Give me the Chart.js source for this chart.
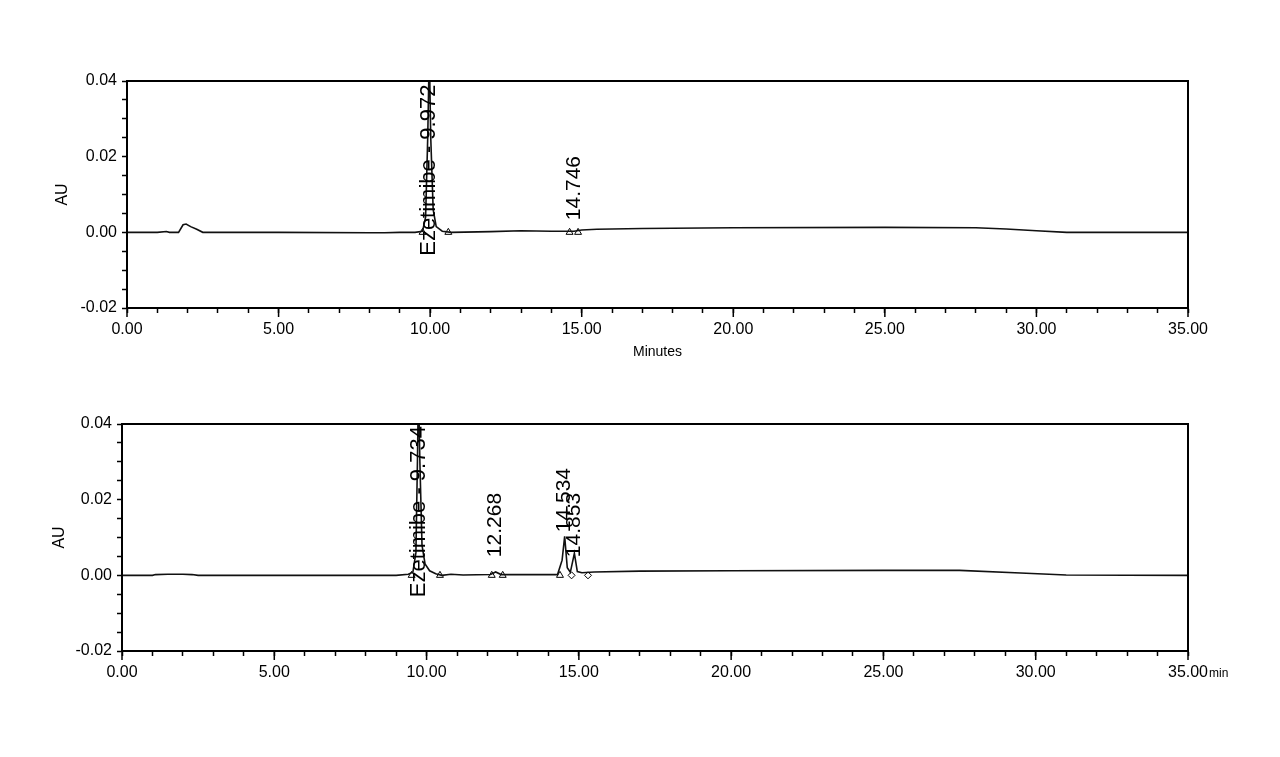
<!DOCTYPE html>
<html><head><meta charset="utf-8">
<script src="https://cdn.jsdelivr.net/npm/chart.js@4.4.1/dist/chart.umd.min.js"></script>
<style>
html,body{margin:0;padding:0;background:#fff;width:1280px;height:757px;overflow:hidden}
canvas{position:absolute;left:0}
#c1{top:0}
#c2{top:380px}
</style></head><body>
<canvas id="c1" width="1280" height="380"></canvas>
<canvas id="c2" width="1280" height="377"></canvas>
<script>
// ---- data ----
const topTime = [0, 1.0, 1.3, 1.4, 1.7, 1.85, 1.95, 2.1, 2.3, 2.5, 5.0, 8.0, 8.5, 9.0, 9.5, 9.75, 9.85, 9.92, 9.972, 10.02, 10.1, 10.2, 10.4, 10.7, 12.0, 13.0, 14.0, 14.746, 15.0, 15.5, 17.0, 20.0, 25.0, 28.0, 29.0, 30.0, 31.0, 35.0];
const topAU   = [0, 0.0000, 0.0002, 0.0000, 0.0000, 0.0020, 0.0022, 0.0015, 0.0008, 0.0000, 0.0000, -0.0001, -0.0001, 0.0000, 0.0000, 0.0003, 0.0040, 0.0250, 0.0480, 0.0250, 0.0060, 0.0015, 0.0003, 0.0000, 0.0002, 0.0004, 0.0003, 0.0003, 0.0006, 0.0008, 0.0010, 0.0012, 0.0013, 0.0012, 0.0009, 0.0004, 0.0000, 0.0000];
const topMarkerTimes = [9.75, 10.6, 14.6, 14.88];
const topMarkerAU    = [0, 0, 0, 0];
const topPeakTimes = [9.972, 14.746];
const topPeakTexts = ["Ezetimibe - 9.972", "14.746"];
const topLabelBase = [-0.0062, 0.0032];

const bottomTime = [0, 1.0, 1.1, 1.5, 2.0, 2.3, 2.5, 5.0, 9.0, 9.4, 9.55, 9.65, 9.70, 9.734, 9.78, 9.85, 9.95, 10.1, 10.3, 10.5, 10.8, 11.2, 12.1, 12.268, 12.45, 13.0, 14.3, 14.45, 14.534, 14.62, 14.72, 14.853, 14.95, 15.1, 15.5, 17.0, 20.0, 25.0, 27.5, 29.5, 31.0, 35.0];
const bottomAU   = [0, 0.0000, 0.0002, 0.0003, 0.0003, 0.0002, 0.0000, 0.0000, 0.0000, 0.0003, 0.0008, 0.0060, 0.0300, 0.0500, 0.0300, 0.0080, 0.0030, 0.0012, 0.0004, 0.0000, 0.0003, 0.0001, 0.0002, 0.0009, 0.0002, 0.0002, 0.0002, 0.0040, 0.0103, 0.0020, 0.0008, 0.0058, 0.0010, 0.0007, 0.0009, 0.0011, 0.0012, 0.0013, 0.0013, 0.0006, 0.0001, 0.0000];
const bottomMarkerTimes  = [9.51, 10.44, 12.14, 12.5, 14.38];
const bottomMarkerAU     = [0, 0, 0, 0, 0];
const bottomDiamondTimes = [14.76, 15.3];
const bottomDiamondAU    = [0, 0];
const bottomPeakTimes = [9.734, 12.268, 14.534, 14.853];
const bottomPeakTexts = ["Ezetimibe - 9.734", "12.268", "14.534", "14.853"];
const bottomLabelBase = [-0.0058, 0.0048, 0.0114, 0.0048];

const xMajorTicks = [0, 5, 10, 15, 20, 25, 30, 35];
const yMajorTicks = [-0.02, 0, 0.02, 0.04];

// ---- drawing ----
const INK = '#000';
const FONT = "'Liberation Sans', Arial, sans-serif";

function pts(xs, ys){ return xs.map((t,i)=>({x:t, y:ys[i]})); }
function isMajor(v, list){ return list.some(m => Math.abs(m - v) < 1e-6); }

const frameAndTicks = {
  id: 'frameAndTicks',
  afterDraw(chart, args, opts){
    const {ctx, chartArea:a, scales:{x}} = chart;
    ctx.save();
    ctx.strokeStyle = INK; ctx.lineWidth = 2;
    ctx.strokeRect(a.left, a.top, a.right - a.left, a.bottom - a.top);
    ctx.lineWidth = 1.5;
    xMajorTicks.forEach(v => {
      const px = x.getPixelForValue(v);
      ctx.beginPath(); ctx.moveTo(px, a.bottom); ctx.lineTo(px, a.bottom + 9); ctx.stroke();
    });
    if (opts.suffix) {
      ctx.font = '12px ' + FONT; ctx.fillStyle = INK;
      ctx.textAlign = 'left'; ctx.textBaseline = 'middle';
      ctx.fillText(opts.suffix, x.getPixelForValue(35) + 21, a.bottom + 23);
    }
    ctx.restore();
  }
};

const peakLabels = {
  id: 'peakLabels',
  afterDatasetsDraw(chart, args, opts){
    const {ctx, scales:{x, y}} = chart;
    ctx.save();
    ctx.fillStyle = INK;
    ctx.textAlign = 'left'; ctx.textBaseline = 'middle';
    opts.times.forEach((t, i) => {
      ctx.font = (i === 0 ? opts.size + 1 : opts.size) + 'px ' + FONT;
      ctx.save();
      ctx.translate(x.getPixelForValue(t), y.getPixelForValue(opts.bases[i]));
      ctx.rotate(-Math.PI / 2);
      ctx.fillText(opts.texts[i], 0, 0);
      ctx.restore();
    });
    ctx.restore();
  }
};

function makeChart(id, cfg){
  const datasets = [
    {type:'line', data: pts(cfg.time, cfg.au), borderColor: '#111', borderWidth: 1.6, pointRadius: 0, tension: 0},
    {type:'scatter', data: pts(cfg.mt, cfg.mau), pointStyle:'triangle', pointRadius: 4, borderColor: INK, borderWidth: 1, backgroundColor:'rgba(0,0,0,0)'}
  ];
  if (cfg.dt) datasets.push({type:'scatter', data: pts(cfg.dt, cfg.dau), pointStyle:'rectRot', pointRadius: 3.5, borderColor: INK, borderWidth: 1, backgroundColor:'rgba(0,0,0,0)'});
  return new Chart(document.getElementById(id), {
    type: 'line',
    data: { datasets },
    options: {
      responsive: false, animation: false, devicePixelRatio: 1,
      layout: { padding: cfg.padding },
      plugins: {
        legend: {display:false}, tooltip: {enabled:false},
        peakLabels: { times: cfg.pt, texts: cfg.ptx, bases: cfg.pb, size: cfg.labelSize },
        frameAndTicks: { suffix: cfg.suffix }
      },
      scales: {
        x: {
          type: 'linear', min: 0, max: 35,
          afterFit: s => { s.height = cfg.xh; },
          grid: {display:true, drawOnChartArea:false, drawTicks:true, tickLength:5, tickColor:INK, tickWidth:1.5},
          border: {display:true, color:INK, width:2},
          ticks: {stepSize:1, autoSkip:false, maxRotation:0, padding:7, color:INK, font:{family:FONT, size:16},
                  callback: v => isMajor(v, xMajorTicks) ? v.toFixed(2) : ''},
          title: {display: !!cfg.xTitle, text: cfg.xTitle || '', color: INK, font:{family:FONT, size:14}, padding:{top:0, bottom:3}}
        },
        y: {
          type: 'linear', min: -0.02, max: 0.04,
          afterFit: s => { s.width = cfg.yw; },
          grid: {display:true, drawOnChartArea:false, drawTicks:true, tickLength:5, tickColor:INK, tickWidth:1.5},
          border: {display:true, color:INK, width:2},
          ticks: {stepSize:0.005, autoSkip:false, padding:5, color:INK, font:{family:FONT, size:16},
                  callback: v => isMajor(v, yMajorTicks) ? (Math.round(v*100)/100).toFixed(2) : ''},
          title: {display:true, text:'AU', color:INK, font:{family:FONT, size:16}, padding:{top:cfg.auPad, bottom:0}}
        }
      }
    },
    plugins: [peakLabels, frameAndTicks]
  });
}

makeChart('c1', {time: topTime, au: topAU, mt: topMarkerTimes, mau: topMarkerAU,
  pt: topPeakTimes, ptx: topPeakTexts, pb: topLabelBase, labelSize: 21,
  padding: {left:48, right:92, top:81, bottom:16}, yw: 79, xh: 56, xTitle: 'Minutes', auPad: 5});

makeChart('c2', {time: bottomTime, au: bottomAU, mt: bottomMarkerTimes, mau: bottomMarkerAU,
  dt: bottomDiamondTimes, dau: bottomDiamondAU,
  pt: bottomPeakTimes, ptx: bottomPeakTexts, pb: bottomLabelBase, labelSize: 21,
  padding: {left:48, right:92, top:44, bottom:66}, yw: 74, xh: 40, suffix: 'min', auPad: 2});
</script>
</body></html>
